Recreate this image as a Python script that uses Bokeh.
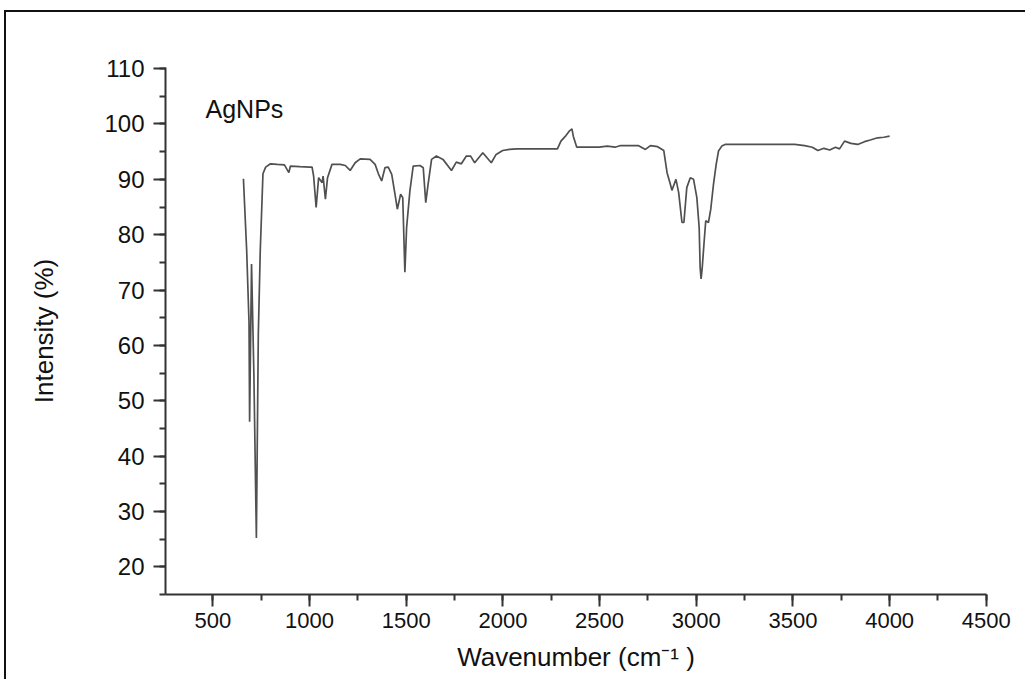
from bokeh.plotting import figure
from bokeh.models import Range1d, SingleIntervalTicker, Label
from bokeh.embed import file_html
from bokeh.resources import INLINE

wavenumber = [658, 675, 687, 690, 700, 712, 725, 735, 745, 759, 773, 798, 833, 870,
              893, 901, 950, 1000, 1013, 1021, 1034, 1047, 1065, 1070, 1082, 1093,
              1116, 1159, 1185, 1210, 1236, 1262, 1313, 1339, 1356, 1373, 1390, 1407,
              1425, 1442, 1454, 1471, 1482, 1493, 1502, 1519, 1536, 1571, 1588, 1601,
              1613, 1631, 1656, 1690, 1734, 1759, 1785, 1811, 1833, 1854, 1896, 1940,
              1965, 1999, 2034, 2071, 2282, 2300, 2326, 2343, 2357, 2364, 2382, 2497,
              2540, 2580, 2609, 2700, 2737, 2763, 2800, 2832, 2849, 2866, 2874, 2895,
              2909, 2926, 2936, 2951, 2969, 2986, 3003, 3015, 3020, 3025, 3031, 3041,
              3049, 3063, 3075, 3089, 3103, 3115, 3132, 3149, 3509, 3560, 3600, 3629,
              3660, 3690, 3720, 3741, 3767, 3800, 3835, 3870, 3900, 3938, 3970, 4000]
intensity = [90.1, 77.0, 64.0, 46.2, 74.7, 55.0, 25.2, 62.0, 77.0, 91.0, 92.2, 92.8, 92.7, 92.6,
             91.2, 92.4, 92.3, 92.2, 92.2, 90.6, 84.9, 90.3, 89.4, 90.6, 86.4, 90.3,
             92.7, 92.7, 92.5, 91.6, 93.0, 93.7, 93.6, 92.7, 91.0, 89.7, 92.1, 92.2,
             90.9, 87.3, 84.6, 87.3, 86.7, 73.2, 81.3, 87.9, 92.4, 92.5, 92.1, 85.8,
             89.1, 93.6, 94.2, 93.6, 91.6, 93.1, 92.8, 94.2, 94.2, 93.0, 94.8, 93.0,
             94.5, 95.2, 95.4, 95.5, 95.5, 96.9, 97.9, 98.7, 99.1, 97.8, 95.8, 95.8,
             96.0, 95.8, 96.1, 96.1, 95.4, 96.1, 95.9, 95.2, 91.2, 89.1, 88.0, 90.0,
             87.6, 82.2, 82.2, 88.5, 90.3, 90.0, 86.7, 81.3, 74.1, 72.0, 74.1, 78.9,
             82.5, 82.2, 84.6, 89.1, 92.7, 95.1, 96.0, 96.3, 96.3, 96.1, 95.8, 95.2,
             95.6, 95.3, 95.8, 95.5, 96.9, 96.5, 96.3, 96.8, 97.1, 97.5, 97.6, 97.8]

sample_name = "AgNPs"
x_title = "Wavenumber (cm\u207b\u00b9 )"
y_title = "Intensity (%)"

p = figure(width=1025, height=679, output_backend="svg", toolbar_location=None,
           x_range=Range1d(255, 4501), y_range=Range1d(15, 110.2),
           min_border_left=165, min_border_right=39, min_border_top=67, min_border_bottom=85)
# outer picture frame: top and left edges only
p.styles = {"box-shadow": "inset 4px 10px 0 0 white, inset 6px 12px 0 0 #111"}
p.border_fill_color = None
p.background_fill_color = None

p.line(wavenumber, intensity, line_color="#505050", line_width=1.7)

p.add_layout(Label(x=40, y=472, x_units="screen", y_units="screen", text=sample_name,
                   text_font="Liberation Sans", text_font_size="25px", text_color="#111"))

p.xgrid.visible = False
p.ygrid.visible = False
p.outline_line_color = None

p.xaxis.ticker = SingleIntervalTicker(interval=500, num_minor_ticks=2)
p.yaxis.ticker = SingleIntervalTicker(interval=10, num_minor_ticks=2)

for ax in (p.xaxis[0], p.yaxis[0]):
    ax.axis_line_color = "#333333"
    ax.axis_line_width = 2
    ax.major_tick_line_color = "#333333"
    ax.major_tick_line_width = 2
    ax.minor_tick_line_color = "#333333"
    ax.minor_tick_line_width = 2
    ax.major_tick_in = 0
    ax.major_tick_out = 12
    ax.minor_tick_in = 0
    ax.minor_tick_out = 6
    ax.major_label_text_font = "Liberation Sans"
    ax.major_label_text_color = "#111111"
    ax.axis_label_text_font = "Liberation Sans"
    ax.axis_label_text_font_style = "normal"
    ax.axis_label_text_color = "#111111"

p.xaxis.axis_label = x_title
p.yaxis.axis_label = y_title
p.xaxis.major_label_text_font_size = "22px"
p.yaxis.major_label_text_font_size = "24px"
p.xaxis.axis_label_text_font_size = "26px"
p.yaxis.axis_label_text_font_size = "26px"
p.xaxis.major_label_standoff = 6
p.yaxis.major_label_standoff = 9
p.xaxis.axis_label_standoff = 11
p.yaxis.axis_label_standoff = 42

open("out.html", "w").write(file_html(p, INLINE))
